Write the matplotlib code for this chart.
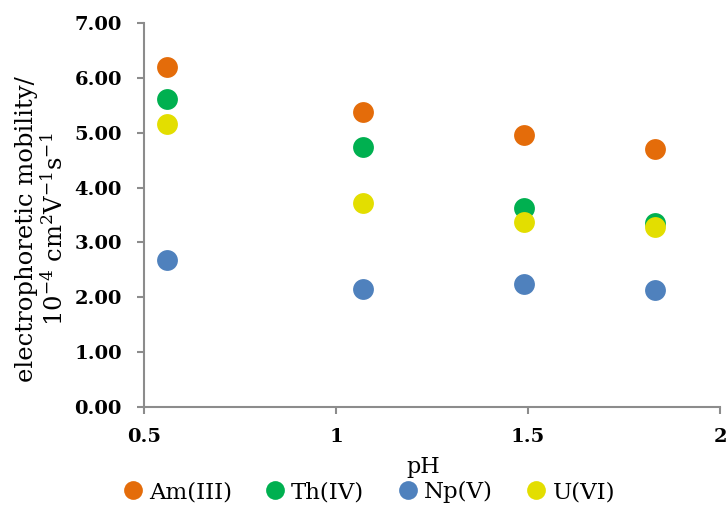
import matplotlib

matplotlib.use("Agg")
import matplotlib.pyplot as plt
from matplotlib.ticker import FormatStrFormatter, MultipleLocator

# electrophoretic mobility (10^-4 cm2 V-1 s-1) against pH
ph = [0.56, 1.07, 1.49, 1.83]
am_iii = [6.19, 5.37, 4.96, 4.71]
th_iv = [5.62, 4.74, 3.62, 3.35]
np_v = [2.68, 2.15, 2.25, 2.14]
u_vi = [5.16, 3.72, 3.38, 3.29]

series = [
    ("Am(III)", am_iii, "#E46C0A"),
    ("Th(IV)", th_iv, "#00B050"),
    ("Np(V)", np_v, "#4F81BD"),
    ("U(VI)", u_vi, "#E3DE00"),
]

plt.rcParams["font.family"] = ["DejaVu Serif"]
plt.rcParams["mathtext.fontset"] = "dejavuserif"

fig = plt.figure(figsize=(7.26, 5.08), dpi=100)
ax = fig.add_axes([144 / 726, 1 - 407 / 508, 576 / 726, 384 / 508])

for name, vals, color in series:
    ax.plot(ph, vals, "o", color=color, markersize=15, markeredgewidth=0,
            label=name, clip_on=False)

ax.set_xlim(0.5, 2)
ax.set_ylim(0, 7)
ax.xaxis.set_major_locator(MultipleLocator(0.5))
ax.yaxis.set_major_locator(MultipleLocator(1))
ax.yaxis.set_major_formatter(FormatStrFormatter("%.2f"))
ax.xaxis.set_major_formatter(FormatStrFormatter("%g"))

for side in ("top", "right"):
    ax.spines[side].set_visible(False)
for side in ("left", "bottom"):
    ax.spines[side].set_color("#8c8c8c")
    ax.spines[side].set_linewidth(1.5)

ax.tick_params(axis="both", direction="out", length=5, width=1.5,
               color="#8c8c8c", labelsize=14)
ax.tick_params(axis="y", pad=11)
ax.tick_params(axis="x", pad=10)
for lbl in ax.get_xticklabels() + ax.get_yticklabels():
    lbl.set_fontweight("bold")

ax.set_xlabel("pH", fontsize=16)
ax.xaxis.label.set_va("center")
ax.xaxis.set_label_coords(0.484, -0.156)

ax.set_ylabel("electrophoretic mobility/\n"
              r"10$^{\mathregular{-4}}$ cm$^{2}$V$^{\mathregular{-1}}$s$^{\mathregular{-1}}$",
              fontsize=17.5, linespacing=1.12)
ax.yaxis.label.set_va("center")
ax.yaxis.set_label_coords(-0.178, 0.464)

fig.legend(loc="center", bbox_to_anchor=(368 / 726, 1 - 492 / 508), ncol=4,
           frameon=False, fontsize=16.5, handlelength=1.0,
           handletextpad=0.2, columnspacing=1.4, markerscale=0.9,
           borderaxespad=0, borderpad=0)

fig.savefig("out.png", dpi=100)
